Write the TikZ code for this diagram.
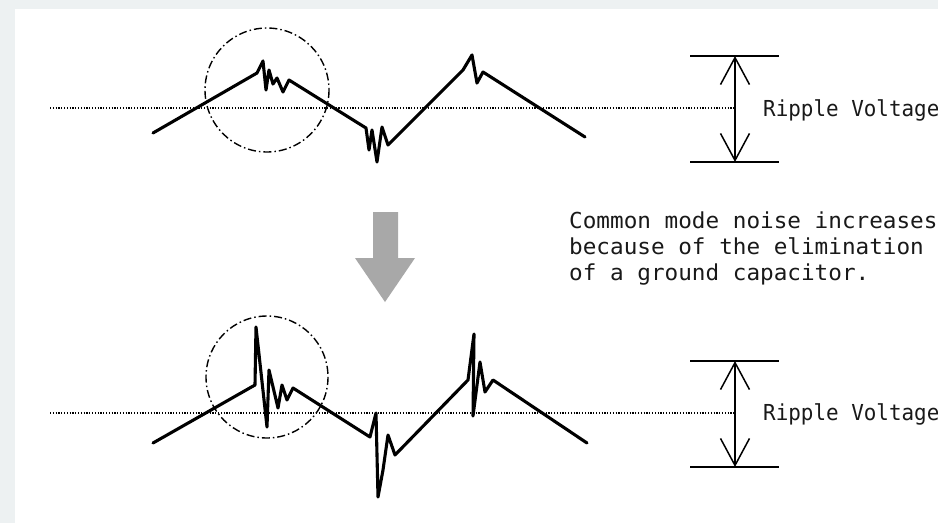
\documentclass[tikz,border=0pt]{standalone}
\usepackage{fontspec}
\newfontfamily\monofont[FakeStretch=1.03]{DejaVu Sans Mono}
\newfontfamily\monofontn[FakeStretch=0.95]{DejaVu Sans Mono}
\usetikzlibrary{arrows.meta}
\definecolor{bgrey}{RGB}{237,241,242}
\definecolor{arrowgrey}{RGB}{168,168,168}
\definecolor{inkcol}{RGB}{25,25,25}
\begin{document}
\begin{tikzpicture}[x=1pt,y=-1pt,
  wave/.style={line width=3.1pt, line join=round, line cap=round},
  refline/.style={line width=1.2pt, dash pattern=on 1.2pt off 1.6pt},
  zoomcirc/.style={line width=1.4pt, dash pattern=on 8pt off 3pt on 1.5pt off 3pt},
  limitline/.style={line width=1.5pt},
  ripplearrow/.style={line width=1.5pt, {Straight Barb[length=27pt,width=29pt,line width=1.5pt]}-{Straight Barb[length=27pt,width=29pt,line width=1.5pt]}},
  txt/.style={text=inkcol, font=\monofont\fontsize{22}{26}\selectfont, inner sep=0pt, anchor=base west},
  rtxt/.style={text=inkcol, font=\monofontn\fontsize{22}{26}\selectfont, inner sep=0pt, anchor=base west}]
\useasboundingbox (0,0) rectangle (938,523);
\clip (0,0) rectangle (938,523);
\fill[bgrey] (0,0) rectangle (938,523);
\fill[white] (15,9) rectangle (938,523);

% ---------- top waveform ----------
\coordinate (t0) at (50,108);
\coordinate (tA) at (690,56);
\coordinate (tB) at (779,56);
\coordinate (tC) at (690,162);
\coordinate (tD) at (779,162);
\coordinate (tTop) at (735,56);
\coordinate (tBot) at (735,162);
\coordinate (tMid) at (735,108);
\draw[refline] (t0) -- (tMid);
\draw[zoomcirc] (267,90) circle[radius=62];
\draw[wave] (153,133) -- (257,73) -- (263,61) -- (266,90) -- (269,70) -- (273,84)
  -- (277,78) -- (283,92) -- (289,80) -- (366,128) -- (369,150) -- (372,130)
  -- (377,162) -- (382,127) -- (388,145) -- (463,70) -- (472,55) -- (477,83)
  -- (483,72) -- (585,137);
\draw[limitline] (tA) -- (tB);
\draw[limitline] (tC) -- (tD);
\draw[ripplearrow] (tTop) -- (tBot);
\node[rtxt] (rv1) at (763,116) {Ripple Voltage};

% ---------- middle arrow and text ----------
\fill[arrowgrey] (373,212) -- (398,212) -- (398,258) -- (415,258) -- (385,302)
  -- (355,258) -- (373,258) -- cycle;
\node[txt] (l1) at (569,228) {Common mode noise increases};
\node[txt] (l2) at (569,254) {because of the elimination};
\node[txt] (l3) at (569,280) {of a ground capacitor.};

% ---------- bottom waveform ----------
\coordinate (b0) at (50,413);
\coordinate (bA) at (690,361);
\coordinate (bB) at (779,361);
\coordinate (bC) at (690,467);
\coordinate (bD) at (779,467);
\coordinate (bTop) at (735,361);
\coordinate (bBot) at (735,467);
\coordinate (bMid) at (735,413);
\draw[refline] (b0) -- (bMid);
\draw[zoomcirc] (267,377) circle[radius=61];
\draw[wave] (153,443) -- (255,385) -- (256,327) -- (267,427) -- (269,370) -- (278,408)
  -- (282,385) -- (287,400) -- (293,388) -- (370,437) -- (376,413) -- (378,497)
  -- (383,470) -- (388,435) -- (395,455) -- (468,380) -- (474,334) -- (473,416)
  -- (480,362) -- (485,392) -- (493,380) -- (587,443);
\draw[limitline] (bA) -- (bB);
\draw[limitline] (bC) -- (bD);
\draw[ripplearrow] (bTop) -- (bBot);
\node[rtxt] (rv2) at (763,420) {Ripple Voltage};
\end{tikzpicture}
\end{document}
